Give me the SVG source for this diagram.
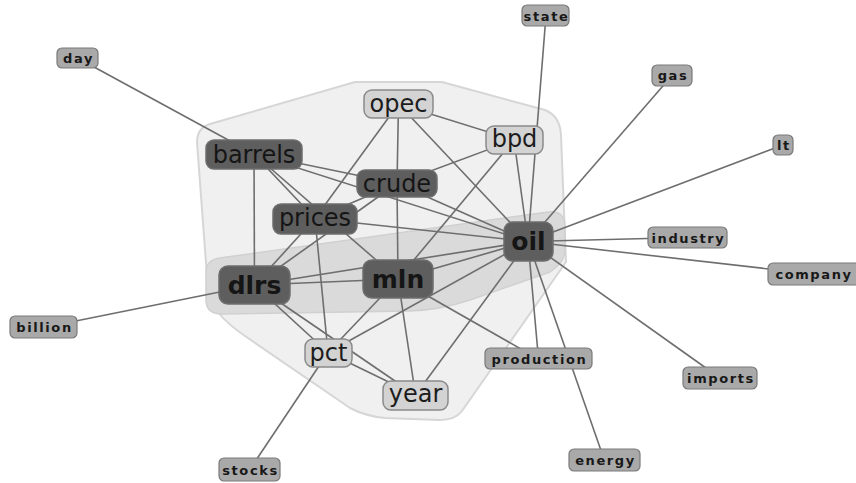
<svg xmlns="http://www.w3.org/2000/svg" width="856" height="483" viewBox="0 0 856 483">
  <style>
    .hull-outer { fill: #f0f0f0; stroke: #d6d6d6; stroke-width: 2; stroke-linejoin: round; }
    .hull-inner { fill: #dadada; stroke: #d0d0d0; stroke-width: 1.5; stroke-linejoin: round; }
    .edges line { stroke: #6e6e6e; stroke-width: 1.6; }
    .dark rect { fill: #5e5e5e; stroke: #6e6e6e; stroke-width: 1.5; }
    .light rect { fill: #d3d3d3; stroke: #8a8a8a; stroke-width: 1.5; }
    .leaf rect { fill: #a9a9a9; stroke: #7a7a7a; stroke-width: 1.2; }
    .dark text { font-family: "DejaVu Sans", sans-serif; font-size: 24px; fill: #151515; text-anchor: middle; }
    .dark text.b { font-weight: bold; font-size: 25px; }
    .light text { font-family: "DejaVu Sans", sans-serif; font-size: 24px; fill: #1c1c1c; text-anchor: middle; }
    .leaf text { font-family: "DejaVu Sans", sans-serif; font-weight: bold; font-size: 13px; letter-spacing: 1.6px; fill: #181818; text-anchor: middle; }
  </style>
  <rect width="856" height="483" fill="#ffffff"/>

  <!-- cluster hulls -->
  <g id="hulls">
    <path class="hull-outer" d="M197,142 Q197,128 210,124 L355,82 L442,82 L545,110 Q560,116 561,135 L566,262 L462,411 Q455,420 440,420 L385,418 Q365,416 350,408 L245,336 Q210,312 208,290 Z"/>
    <path class="hull-inner" d="M206,272 Q206,260 220,258 L548,212 Q564,210 565,225 L565,250 Q565,262 550,272 L470,300 Q440,310 410,311 L222,314 Q206,314 206,300 Z"/>
  </g>

  <!-- connectors -->
  <g class="edges" id="edges">
    <line x1="77.5" y1="58" x2="254" y2="154"/>
    <line x1="546" y1="15.5" x2="528" y2="241.5"/>
    <line x1="672" y1="75.5" x2="528" y2="241.5"/>
    <line x1="783" y1="145" x2="528" y2="241.5"/>
    <line x1="687.5" y1="237.5" x2="528" y2="241.5"/>
    <line x1="813" y1="274" x2="528" y2="241.5"/>
    <line x1="720" y1="378" x2="528" y2="241.5"/>
    <line x1="604.5" y1="460.5" x2="528" y2="241.5"/>
    <line x1="538.5" y1="359" x2="528" y2="241.5"/>
    <line x1="538.5" y1="359" x2="398" y2="279"/>
    <line x1="43.5" y1="327.5" x2="254.5" y2="285"/>
    <line x1="249.5" y1="470" x2="328" y2="352.5"/>

    <line x1="398.5" y1="104" x2="514" y2="140"/>
    <line x1="398.5" y1="104" x2="397" y2="183.5"/>
    <line x1="398.5" y1="104" x2="528" y2="241.5"/>
    <line x1="398.5" y1="104" x2="315" y2="218.5"/>
    <line x1="397" y1="183.5" x2="398" y2="279"/>
    <line x1="514" y1="140" x2="397" y2="183.5"/>
    <line x1="514" y1="140" x2="398" y2="279"/>
    <line x1="514" y1="140" x2="528" y2="241.5"/>
    <line x1="254" y1="154" x2="397" y2="183.5"/>
    <line x1="254" y1="154" x2="528" y2="241.5"/>
    <line x1="254" y1="154" x2="315" y2="218.5"/>
    <line x1="254" y1="154" x2="398" y2="279"/>
    <line x1="254" y1="154" x2="254.5" y2="285"/>
    <line x1="397" y1="183.5" x2="528" y2="241.5"/>
    <line x1="397" y1="183.5" x2="315" y2="218.5"/>
    <line x1="315" y1="218.5" x2="528" y2="241.5"/>
    <line x1="315" y1="218.5" x2="328" y2="352.5"/>
    <line x1="254.5" y1="285" x2="315" y2="218.5"/>
    <line x1="254.5" y1="285" x2="397" y2="183.5"/>
    <line x1="254.5" y1="285" x2="398" y2="279"/>
    <line x1="254.5" y1="285" x2="528" y2="241.5"/>
    <line x1="254.5" y1="285" x2="328" y2="352.5"/>
    <line x1="254.5" y1="285" x2="415.5" y2="395"/>
    <line x1="398" y1="279" x2="528" y2="241.5"/>
    <line x1="398" y1="279" x2="328" y2="352.5"/>
    <line x1="398" y1="279" x2="415.5" y2="395"/>
    <line x1="328" y1="352.5" x2="528" y2="241.5"/>
    <line x1="328" y1="352.5" x2="415.5" y2="395"/>
    <line x1="415.5" y1="395" x2="528" y2="241.5"/>
  </g>

  <!-- core terms -->
  <g id="opec" class="light"><rect x="364" y="90" width="69" height="28" rx="8"/><text x="398.5" y="112">opec</text></g>
  <g id="bpd" class="light"><rect x="486" y="126" width="57" height="28" rx="8"/><text x="514.5" y="147">bpd</text></g>
  <g id="pct" class="light"><rect x="305" y="339" width="47" height="28" rx="8"/><text x="328.5" y="361">pct</text></g>
  <g id="year" class="light"><rect x="383" y="381" width="65" height="29" rx="8"/><text x="415.5" y="402">year</text></g>

  <g id="barrels" class="dark"><rect x="206" y="140" width="96" height="29" rx="8"/><text x="254" y="163">barrels</text></g>
  <g id="crude" class="dark"><rect x="357" y="170" width="80" height="27" rx="8"/><text x="397" y="192">crude</text></g>
  <g id="prices" class="dark"><rect x="273" y="204" width="84" height="30" rx="8"/><text x="315" y="226">prices</text></g>
  <g id="oil" class="dark"><rect x="504" y="222" width="49" height="39" rx="9"/><text class="b" x="528.5" y="250">oil</text></g>
  <g id="mln" class="dark"><rect x="363" y="260" width="70" height="38" rx="9"/><text class="b" x="398" y="288">mln</text></g>
  <g id="dlrs" class="dark"><rect x="219" y="266" width="71" height="38" rx="9"/><text class="b" x="254.5" y="294">dlrs</text></g>

  <!-- outer terms -->
  <g id="day" class="leaf"><rect x="57" y="48" width="41" height="20" rx="5"/><text x="78.5" y="63">day</text></g>
  <g id="state" class="leaf"><rect x="522" y="5" width="47" height="21" rx="5"/><text x="546.5" y="20.5">state</text></g>
  <g id="gas" class="leaf"><rect x="652" y="65" width="40" height="21" rx="5"/><text x="673" y="80">gas</text></g>
  <g id="lt" class="leaf"><rect x="773" y="135" width="20" height="20" rx="5"/><text x="784" y="150">lt</text></g>
  <g id="industry" class="leaf"><rect x="648" y="227" width="79" height="21" rx="5"/><text x="688.5" y="242.5">industry</text></g>
  <g id="company" class="leaf"><rect x="768" y="263" width="92" height="22" rx="5"/><text x="814" y="279">company</text></g>
  <g id="production" class="leaf"><rect x="485" y="348" width="107" height="21" rx="5"/><text x="539.5" y="363.5">production</text></g>
  <g id="imports" class="leaf"><rect x="683" y="367" width="74" height="22" rx="5"/><text x="721" y="383">imports</text></g>
  <g id="energy" class="leaf"><rect x="569" y="449" width="71" height="22" rx="5"/><text x="605.5" y="465">energy</text></g>
  <g id="billion" class="leaf"><rect x="10" y="316" width="67" height="22" rx="5"/><text x="44.5" y="332">billion</text></g>
  <g id="stocks" class="leaf"><rect x="219" y="458" width="61" height="23" rx="5"/><text x="250.5" y="474.5">stocks</text></g>
</svg>
